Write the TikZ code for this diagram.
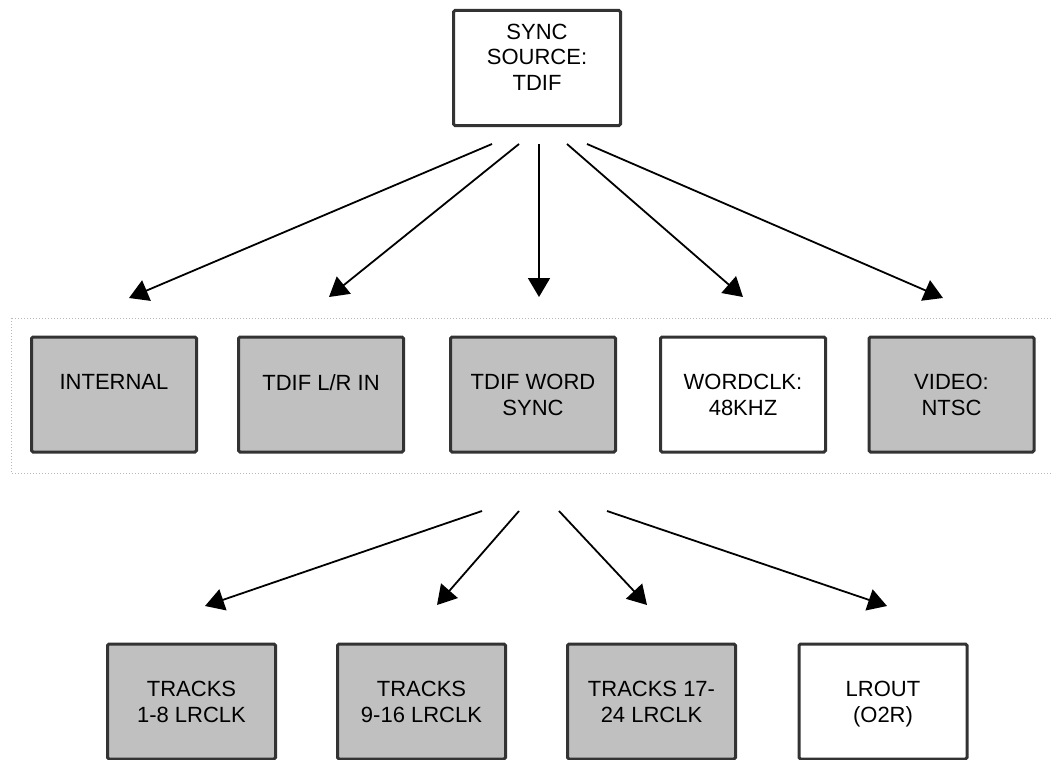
\documentclass[tikz,border=0pt]{standalone}
\usepackage{fontspec}
\setmainfont{Liberation Sans}
\usetikzlibrary{arrows.meta}
\definecolor{boxfill}{HTML}{C0C0C0}
\definecolor{boxline}{HTML}{333333}
\newcommand{\boxtext}[2][37.6pt]{\parbox[c][115pt][t]{160pt}{\vspace*{#1}\centering #2}}

\begin{document}
\begin{tikzpicture}[x=1pt,y=-1pt,>={Triangle[length=19pt,width=22pt]},
  main node/.style={rectangle,draw=boxline,line width=3pt,rounded corners=1.5pt,
    inner sep=0pt,minimum height=115pt,font=\fontsize{22}{25.5}\selectfont},
  grey node/.style={main node,fill=boxfill},
  white node/.style={main node,fill=white}]

  \useasboundingbox (0,0) rectangle (1052,760);

  % group of sync sources
  \draw[gray!55,line width=1pt,dash pattern=on 1pt off 2pt] (11,318) rectangle (1060,473);

  \node[white node,minimum width=167pt] (sync) at (537,68) {\boxtext[13.6pt]{SYNC\\SOURCE:\\TDIF}};

  \node[grey node,minimum width=165pt] (internal) at (114,394.5) {\boxtext{INTERNAL}};
  \node[grey node,minimum width=165pt] (lrin) at (321,394.5) {\boxtext{TDIF L/R IN}};
  \node[grey node,minimum width=165pt] (wordsync) at (533,394.5) {\boxtext{TDIF WORD\\SYNC}};
  \node[white node,minimum width=165pt] (wordclk) at (743,394.5) {\boxtext{WORDCLK:\\48KHZ}};
  \node[grey node,minimum width=165pt] (video) at (951.5,394.5) {\boxtext{VIDEO:\\NTSC}};

  \node[grey node,minimum width=168pt] (tracksa) at (191.5,701.5) {\boxtext{TRACKS\\1-8 LRCLK}};
  \node[grey node,minimum width=168pt] (tracksb) at (421.5,701.5) {\boxtext{TRACKS\\9-16 LRCLK}};
  \node[grey node,minimum width=168pt] (tracksc) at (651.5,701.5) {\boxtext{TRACKS 17-\\24 LRCLK}};
  \node[white node,minimum width=168pt] (lrout) at (883,701.5) {\boxtext{LROUT\\(O2R)}};

  % arrow ends
  \coordinate (s1) at (492,144);  \coordinate (e1) at (129,298);
  \coordinate (s2) at (519,144);  \coordinate (e2) at (329,297);
  \coordinate (s3) at (539,144);  \coordinate (e3) at (539,297);
  \coordinate (s4) at (567,144);  \coordinate (e4) at (743,297);
  \coordinate (s5) at (587,144);  \coordinate (e5) at (943,298);
  \coordinate (w1) at (482,511);  \coordinate (f1) at (205,606);
  \coordinate (w2) at (519,511);  \coordinate (f2) at (437,605);
  \coordinate (w3) at (559,511);  \coordinate (f3) at (647,605);
  \coordinate (w4) at (607,511);  \coordinate (f4) at (887,606);

  \path[->,line width=1.8pt]
  (s1) edge (e1)
  (s2) edge (e2)
  (s3) edge (e3)
  (s4) edge (e4)
  (s5) edge (e5)
  (w1) edge (f1)
  (w2) edge (f2)
  (w3) edge (f3)
  (w4) edge (f4);
\end{tikzpicture}
\end{document}
